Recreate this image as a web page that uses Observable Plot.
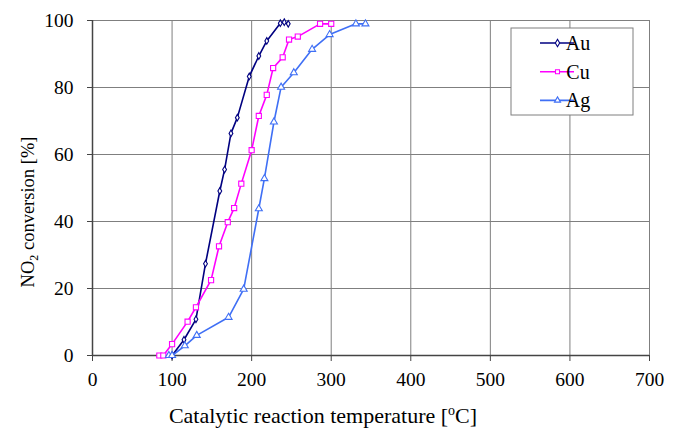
<!DOCTYPE html>
<html>
<head>
<meta charset="utf-8">
<script src="https://cdn.jsdelivr.net/npm/d3@7"></script>
<script src="https://cdn.jsdelivr.net/npm/@observablehq/plot@0.6"></script>
<style>
  html, body { margin: 0; padding: 0; background: #fff; }
  #chart { width: 679px; height: 428px; }
  #chart svg text { font-family: "Liberation Serif", "DejaVu Serif", serif; }
</style>
</head>
<body>
<div id="chart"></div>
<script>
// ---- Data ----
const seriesNames = ["Au", "Cu", "Ag"];
const seriesColors = ["#000080", "#ff00ff", "#3f6ff5"];
const seriesSymbols = ["diamond", "square", "triangle"];
const seriesSizes = [2.0, 2.9, 2.6];

const auTemp = [100, 115, 130, 142, 160, 166, 174, 182, 197, 209, 219, 236, 241, 246];
const auConv = [0, 4.7, 10.8, 27.4, 49.1, 55.5, 66.3, 71, 83.3, 89.4, 93.9, 99.2, 99.5, 99];

const cuTemp = [84, 89, 100, 119.5, 130, 149, 159, 170, 178, 187, 200, 209, 219, 227, 239, 247, 258, 286, 300];
const cuConv = [0, 0, 3.4, 10.1, 14.4, 22.5, 32.6, 39.8, 44, 51.3, 61.3, 71.5, 77.8, 85.8, 89, 94.3, 95.2, 99, 99];

const agTemp = [96, 100, 116, 131, 171, 190, 209, 216, 228, 237, 253, 276, 298, 331, 343];
const agConv = [0, 0, 2.9, 6, 11.4, 19.8, 43.8, 52.8, 69.7, 80.1, 84.4, 91.4, 95.8, 99, 99];

const xTicks = [0, 100, 200, 300, 400, 500, 600, 700];
const yTicks = [0, 20, 40, 60, 80, 100];

// ---- Build table ----
const temps = [auTemp, cuTemp, agTemp];
const convs = [auConv, cuConv, agConv];
const data = [];
seriesNames.forEach((name, i) => {
  temps[i].forEach((t, j) => data.push({series: name, temp: t, conv: convs[i][j]}));
});

const font = "Liberation Serif, DejaVu Serif, serif";

const dotMarks = seriesNames.map((name, i) =>
  Plot.dot(data.filter(d => d.series === name), {
    x: "temp", y: "conv", symbol: () => seriesSymbols[i], stroke: seriesColors[i],
    fill: "white", r: seriesSizes[i], strokeWidth: 1.1
  })
);

const chart = Plot.plot({
  width: 679,
  height: 428,
  marginLeft: 92,
  marginRight: 30,
  marginTop: 20,
  marginBottom: 73,
  style: {fontFamily: font, fontSize: "19px", color: "#000", background: "#fff"},
  x: {domain: [0, 700], label: null},
  y: {domain: [0, 100], label: null},
  color: {domain: seriesNames, range: seriesColors},
  symbol: {type: "identity"},
  marks: [
    Plot.gridX(xTicks, {stroke: "#7f7f7f", strokeOpacity: 1, strokeWidth: 1}),
    Plot.gridY(yTicks, {stroke: "#7f7f7f", strokeOpacity: 1, strokeWidth: 1}),
    Plot.frame({stroke: "#7f7f7f", strokeWidth: 1}),
    Plot.ruleX([0], {stroke: "#444", strokeWidth: 1.5}),
    Plot.ruleY([0], {stroke: "#444", strokeWidth: 1.5}),
    Plot.axisX({ticks: xTicks, tickSize: 6, tickPadding: 11, tickFormat: d => d, stroke: "#444", fontSize: 19.5}),
    Plot.axisY({ticks: yTicks, tickSize: 5, tickPadding: 14, tickFormat: d => d, stroke: "#444", fontSize: 19.5}),
    Plot.line(data, {x: "temp", y: "conv", z: "series", stroke: "series", strokeWidth: 1.6}),
    ...dotMarks
  ]
});

document.getElementById("chart").appendChild(chart);

// ---- Axis titles and legend ----
const svg = d3.select(chart);

const xt = svg.append("text")
  .attr("x", 323).attr("y", 423)
  .attr("text-anchor", "middle")
  .attr("font-family", font).attr("font-size", 22).attr("fill", "#000");
xt.append("tspan").text("Catalytic reaction temperature [");
xt.append("tspan").attr("font-size", 14).attr("dy", -8).text("o");
xt.append("tspan").attr("dy", 8).text("C]");

const yt = svg.append("text")
  .attr("transform", "translate(33.5,212) rotate(-90)")
  .attr("text-anchor", "middle")
  .attr("font-family", font).attr("font-size", 18.5).attr("fill", "#000");
yt.append("tspan").text("NO");
yt.append("tspan").attr("font-size", 12).attr("dy", 4).text("2");
yt.append("tspan").attr("dy", -4).text(" conversion [%]");

const lg = svg.append("g");
lg.append("rect").attr("x", 511).attr("y", 28).attr("width", 122).attr("height", 87)
  .attr("fill", "#fff").attr("stroke", "#7f7f7f").attr("stroke-width", 1);
const symTypes = {diamond: d3.symbolDiamond, square: d3.symbolSquare, triangle: d3.symbolTriangle};
seriesNames.forEach((name, i) => {
  const y = 43 + i * 28.7;
  lg.append("line").attr("x1", 540).attr("x2", 574).attr("y1", y).attr("y2", y)
    .attr("stroke", seriesColors[i]).attr("stroke-width", 1.6);
  lg.append("path").attr("d", d3.symbol(symTypes[seriesSymbols[i]], 16)())
    .attr("transform", `translate(557.5,${y})`)
    .attr("fill", "#fff").attr("stroke", seriesColors[i]).attr("stroke-width", 1.1);
  lg.append("text").attr("x", 578).attr("y", y).attr("dy", "0.35em")
    .attr("font-family", font).attr("font-size", 20).attr("fill", "#000").text(name);
});
</script>
</body>
</html>
